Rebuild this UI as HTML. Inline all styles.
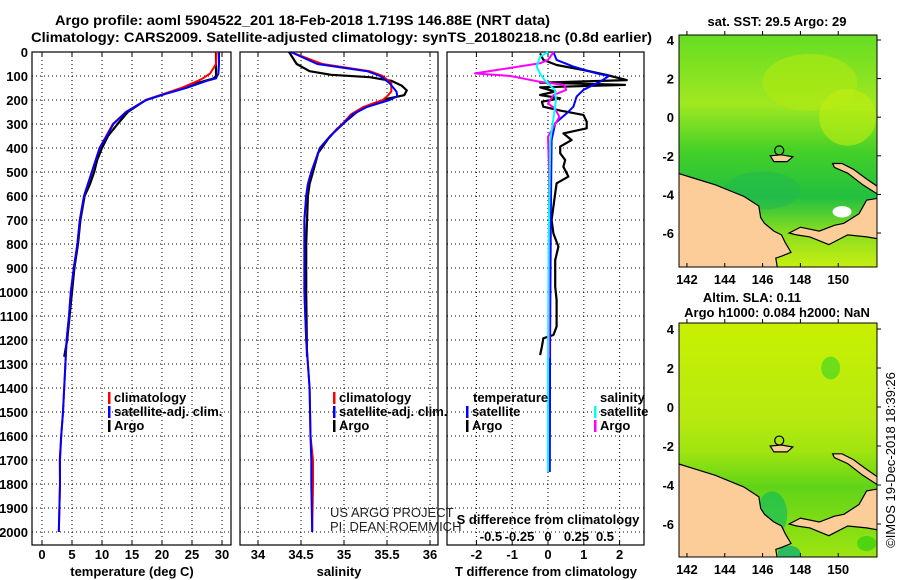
<!DOCTYPE html>
<html><head><meta charset="utf-8"><style>
html,body{margin:0;padding:0;background:#fff;}
svg{display:block;font-family:"Liberation Sans",Arial,sans-serif;}
.b{font-weight:bold;font-size:13px;fill:#000;}
</style></head>
<body>
<svg id="fig" width="900" height="580" viewBox="0 0 900 580" xmlns="http://www.w3.org/2000/svg">
<text class="b" x="55" y="25" textLength="495" lengthAdjust="spacingAndGlyphs" style="font-size:14px">Argo profile: aoml 5904522_201 18-Feb-2018 1.719S 146.88E (NRT data)</text>
<text class="b" x="31" y="42" textLength="621" lengthAdjust="spacingAndGlyphs" style="font-size:14px">Climatology: CARS2009. Satellite-adjusted climatology: synTS_20180218.nc (0.8d earlier)</text>
</svg>
<script>
// ---------- data ----------
const tempDepth = [0,50,90,110,120,150,175,200,250,300,350,400,500,600,700,800,900,1000,1100,1200,1300,1400,1500,1600,1700,1800,1900,2000];
const tempClim  = [29.1,29.0,28.0,26.8,26.0,23.2,20.3,17.3,14.0,11.8,10.7,9.6,8.3,7.0,6.3,5.9,5.3,4.8,4.5,4.1,3.9,3.7,3.5,3.2,2.95,3.0,2.9,2.8];
const tempSat   = [29.5,29.5,29.4,29.0,27.5,24.0,20.5,17.4,14.0,11.9,10.8,9.6,8.3,7.0,6.3,5.9,5.3,4.8,4.5,4.1,3.9,3.7,3.5,3.2,3.0,3.0,2.9,2.8];
const argoDepth = [0,60,100,110,130,150,170,200,250,300,350,400,450,500,550,600,700,800,900,1000,1100,1200,1270];
const argoTemp  = [29.0,29.0,29.0,28.6,25.8,23.5,21.0,17.3,14.3,12.6,11.0,10.0,9.2,8.7,8.0,7.1,6.4,6.0,5.4,5.0,4.6,4.2,3.7];
const salDepth  = [0,50,80,100,130,165,185,200,230,260,300,350,400,500,550,600,700,1000,1200,1400,1600,1700,1800,2000];
const salClim   = [34.38,34.75,35.30,35.45,35.55,35.55,35.50,35.45,35.22,35.08,34.98,34.84,34.72,34.62,34.58,34.56,34.54,34.54,34.56,34.60,34.61,34.64,34.64,34.63];
const salSat    = [34.38,34.69,35.27,35.42,35.53,35.61,35.62,35.53,35.26,35.10,34.99,34.84,34.72,34.62,34.58,34.56,34.54,34.54,34.56,34.60,34.61,34.62,34.62,34.63];
const argoSalDepth = [0,50,80,95,105,120,140,160,180,195,220,250,280,320,360,420,500,550,600,800,1000,1270];
const argoSal   = [34.36,34.45,34.60,34.85,35.30,35.55,35.67,35.73,35.70,35.50,35.30,35.15,35.05,34.92,34.82,34.70,34.64,34.60,34.58,34.56,34.56,34.57];
const dTArgoDepth = [6,33,54,75,96,117,128,137,147,165,179,193,207,228,244,262,290,318,339,367,394,422,450,478,519,547,589,644,700,756,811,867,922,978,1033,1089,1144,1179,1193,1228,1263];
const dTArgo    = [-0.22,-0.13,0.24,0.99,1.64,2.2,-0.22,2.15,-0.22,0.2,-0.22,0.34,-0.17,-0.13,0.34,0.99,1.08,1.08,0.43,0.66,0.34,0.34,0.48,0.43,0.57,0.24,0.2,0.15,0.1,0.15,0.29,0.2,0.2,0.2,0.24,0.24,0.24,0.15,-0.13,-0.17,-0.22];
const dTSatDepth = [0,33,61,89,100,124,158,186,228,256,297,367,650,1200,1750];
const dTSat     = [0.15,0.24,0.71,1.36,1.7,1.45,0.99,0.8,0.71,0.52,0.2,0.1,0.08,0.06,0.05];
const dSArgoDepth = [0,33,47,89,100,124,137,158,179,214,235,270,311,353,505,900,1276];
const dSArgo    = [0.05,0.0,-0.07,-0.64,-0.33,-0.07,0.14,0.16,0.05,0.0,0.06,0.1,0.05,0.0,0.01,0.01,0.01];
const dSSatDepth = [0,20,61,89,117,158,200,270,367,800,1311,1750];
const dSSat     = [0.0,-0.07,-0.1,-0.07,-0.03,0.06,0.07,0.05,0.02,0.005,0.0,0.0];
const depthTicks = [0,100,200,300,400,500,600,700,800,900,1000,1100,1200,1300,1400,1500,1600,1700,1800,1900,2000];
const tempTicks = [0,5,10,15,20,25,30];
const salTicks  = [34,34.5,35,35.5,36];
const salTickLabels = ['34','34.5','35','35.5','36'];
const dTTicks = [-2,-1,0,1,2];
const dSTicks = [-0.5,-0.25,0,0.25,0.5];
const dSTickLabels = ['-0.5','-0.25','0','0.25','0.5'];
const lonTicks = [142,144,146,148,150];
const latTicks = [4,2,0,-2,-4,-6];

// ---------- helpers ----------
const NS='http://www.w3.org/2000/svg';
const svg=document.getElementById('fig');
function mk(tag,attrs,parent){const e=document.createElementNS(NS,tag);for(const k in attrs)e.setAttribute(k,attrs[k]);(parent||svg).appendChild(e);return e;}
function txt(s,attrs,parent){const e=mk('text',attrs,parent);e.textContent=s;return e;}
const PT=52, PB=545;
const yD=d=>PT+d*0.24;
const panels={
 temp:{x0:32,x1:231,f:v=>42+v*6},
 sal:{x0:240,x1:438,f:v=>258+(v-34)*86},
 diff:{x0:447,x1:644,f:v=>548+v*35.8, g:v=>548+v*114}
};
function frame(p,name){
  const r=mk('rect',{x:p.x0,y:PT,width:p.x1-p.x0,height:PB-PT,fill:'#fff',stroke:'#000','stroke-width':1.2});
  
  
  depthTicks.forEach(d=>{const l=mk('line',{x1:p.x0,x2:p.x1,y1:yD(d),y2:yD(d),stroke:'#000','stroke-width':1,'stroke-dasharray':'1 3'});
    
    });
}
function vgrid(p,name,ticks,fn){
  ticks.forEach(t=>{const x=fn(t);const l=mk('line',{x1:x,x2:x,y1:PT,y2:PB,stroke:'#000','stroke-width':1,'stroke-dasharray':'1 3'});
    
    
    const t1=mk('line',{x1:x,x2:x,y1:PT,y2:PT+5,stroke:'#000'});
    
    
    const t2=mk('line',{x1:x,x2:x,y1:PB-5,y2:PB,stroke:'#000'});
    
    });
}
function line(depths,vals,fn,color,name,w){
  const d=depths.map((z,i)=>(i?'L':'M')+fn(vals[i]).toFixed(1)+' '+yD(z).toFixed(1)).join(' ');
  const e=mk('path',{d:d,fill:'none',stroke:color,'stroke-width':w||2,'stroke-linejoin':'round'});
  
  
}
function legend(x,y,color,label,name){
  const m=mk('rect',{x:x,y:y-10,width:2.5,height:12,fill:color});
  
  
  const t=txt(label,{x:x+6,y:y,class:'b'});
  
  
}

// ---------- panels ----------
const P1=panels.temp,P2=panels.sal,P3=panels.diff;
frame(P1,'temperature-panel');vgrid(P1,'temperature-panel',tempTicks,P1.f);
frame(P2,'salinity-panel');vgrid(P2,'salinity-panel',salTicks,P2.f);
frame(P3,'difference-panel');vgrid(P3,'difference-panel',dTTicks,P3.f);

depthTicks.forEach(d=>{const t=txt(String(d),{x:28,y:yD(d)+5,class:'b','text-anchor':'end'});
  
  });
tempTicks.forEach(v=>{const t=txt(String(v),{x:P1.f(v),y:559,class:'b','text-anchor':'middle'});
  
  });
salTicks.forEach((v,i)=>{const t=txt(salTickLabels[i],{x:P2.f(v),y:559,class:'b','text-anchor':'middle'});
  
  });
dTTicks.forEach(v=>{const t=txt(String(v),{x:P3.f(v),y:559,class:'b','text-anchor':'middle'});
  
  });
dSTicks.forEach((v,i)=>{const t=txt(dSTickLabels[i],{x:P3.g(v),y:541,class:'b','text-anchor':'middle'});
  
  });
let t;
t=txt('temperature (deg C)',{x:132,y:576,class:'b','text-anchor':'middle'});


t=txt('salinity',{x:339,y:576,class:'b','text-anchor':'middle'});


t=txt('T difference from climatology',{x:546,y:576,class:'b','text-anchor':'middle'});


t=txt('S difference from climatology',{x:548,y:524,class:'b','text-anchor':'middle'});


t=txt('US ARGO PROJECT',{x:330,y:517,'font-size':13,fill:'#222'});


t=txt('PI: DEAN ROEMMICH',{x:330,y:531,'font-size':13,fill:'#222'});



line(argoDepth,argoTemp,P1.f,'#000','temperature-argo-line',2.2);
line(tempDepth,tempClim,P1.f,'#f00','temperature-climatology-line');
line(tempDepth,tempSat,P1.f,'#00f','temperature-satellite-line');
line(argoSalDepth,argoSal,P2.f,'#000','salinity-argo-line',2.2);
line(salDepth,salClim,P2.f,'#f00','salinity-climatology-line');
line(salDepth,salSat,P2.f,'#00f','salinity-satellite-line');
line(dTArgoDepth,dTArgo,P3.f,'#000','t-difference-argo-line',2.2);
line(dTSatDepth,dTSat,P3.f,'#00f','t-difference-satellite-line');
line(dSArgoDepth,dSArgo,P3.g,'#f0f','s-difference-argo-line');
line(dSSatDepth,dSSat,P3.g,'#0ff','s-difference-satellite-line');

legend(108,402,'#f00','climatology','temperature-legend-climatology');
legend(108,416,'#00f','satellite-adj. clim.','temperature-legend-satellite');
legend(108,430,'#000','Argo','temperature-legend-argo');
legend(333,402,'#f00','climatology','salinity-legend-climatology');
legend(333,416,'#00f','satellite-adj. clim.','salinity-legend-satellite');
legend(333,430,'#000','Argo','salinity-legend-argo');
t=txt('temperature',{x:473,y:402,class:'b'});


t=txt('salinity',{x:600,y:402,class:'b'});


legend(466,416,'#00f','satellite','difference-legend-t-satellite');
legend(466,430,'#000','Argo','difference-legend-t-argo');
legend(594,416,'#0ff','satellite','difference-legend-s-satellite');
legend(594,430,'#f0f','Argo','difference-legend-s-argo');

// ---------- maps ----------
const coastMain=[[141.5,-2.9],[142.5,-3.2],[143.5,-3.5],[144.5,-3.9],[145,-4.1],[145.8,-4.6],[145.9,-5.2],[146.1,-5.5],[146.6,-5.9],[147.0,-6.1],[147.2,-6.5],[147.5,-7.0],[147.0,-7.2],[146.7,-7.3],[146.8,-7.9],[141.5,-7.9]];
const coastNewBritain=[[147.4,-6.0],[148,-5.7],[149,-5.9],[149.8,-5.6],[150.3,-5.5],[151.1,-5.0],[151.5,-4.3],[152.1,-4.2],[152.1,-6.3],[151.5,-6.2],[150.5,-6.1],[149.5,-6.6],[148.5,-6.2],[147.8,-6.1]];
const coastNewIreland=[[149.7,-2.4],[150.2,-2.4],[150.8,-2.7],[151.5,-3.2],[152.1,-3.6],[152.1,-4.0],[151.3,-3.5],[150.5,-2.9],[149.8,-2.6]];
const coastManus=[[146.4,-2.0],[147.0,-1.95],[147.6,-2.05],[147.3,-2.3],[146.6,-2.3]];
const floatLon=146.88, floatLat=-1.72;
function drawMap(m,name){
  const X=lon=>m.x0+(lon-141.58)*(m.x1-m.x0)/(152.05-141.58);
  const Y=lat=>m.y4+(4-lat)*m.sy;
  const g=mk('g',{});
  
  
  const gid=name+'-grad';
  const defs=mk('defs',{},g);
  const lg=mk('linearGradient',{id:gid,x1:0,y1:0,x2:0,y2:1},defs);
  m.stops.forEach(s=>mk('stop',{offset:s[0],'stop-color':s[1]},lg));
  const cp=mk('clipPath',{id:name+'-clip'},defs);
  mk('rect',{x:m.x0,y:m.y0,width:m.x1-m.x0,height:m.y1-m.y0},cp);
  const inner=mk('g',{'clip-path':'url(#'+name+'-clip)'},g);
  const bg=mk('rect',{x:m.x0,y:m.y0,width:m.x1-m.x0,height:m.y1-m.y0,fill:'url(#'+gid+')'},inner);
  
  
  m.blobs.forEach(b=>{const e=mk('ellipse',{cx:X(b[0]),cy:Y(b[1]),rx:b[2]*19,ry:b[3]*19,fill:b[4],opacity:b[5]},inner);
    
    });
  [coastMain,coastNewBritain,coastNewIreland,coastManus].forEach((c,i)=>{
    const p=mk('polygon',{points:c.map(q=>X(q[0]).toFixed(1)+','+Y(q[1]).toFixed(1)).join(' '),fill:'#fccc99',stroke:'#000','stroke-width':1.2},inner);
    
    });
  const c=mk('circle',{cx:X(floatLon),cy:Y(floatLat),r:4.5,fill:'none',stroke:'#000','stroke-width':1.2},g);
  
  
  const fr=mk('rect',{x:m.x0,y:m.y0,width:m.x1-m.x0,height:m.y1-m.y0,fill:'none',stroke:'#000','stroke-width':1},g);
  
  
  lonTicks.forEach(v=>{const tt=txt(String(v),{x:X(v),y:m.y1+17,class:'b','text-anchor':'middle','font-size':14},g);
    
    
    const tk=mk('line',{x1:X(v),x2:X(v),y1:m.y1-4,y2:m.y1,stroke:'#000'},g);
    
    
    const tk2=mk('line',{x1:X(v),x2:X(v),y1:m.y0,y2:m.y0-4,stroke:'#000'},g);
    
    });
  latTicks.forEach(v=>{const tt=txt(String(v),{x:m.x0-5,y:Y(v)+5,class:'b','text-anchor':'end','font-size':14},g);
    
    
    const tk=mk('line',{x1:m.x1,x2:m.x1+4,y1:Y(v),y2:Y(v),stroke:'#000'},g);
    
    });
}
drawMap({x0:679,x1:877,y0:35,y1:267,y4:40,sy:19.3,
  stops:[[0,'#66dd22'],[0.3,'#a0e820'],[0.5,'#44d028'],[0.7,'#22c040'],[0.85,'#88dd20'],[1,'#c8ee10']],
  blobs:[[148.5,1.8,2.5,1.5,'#b0ea10',0.6],[150.5,0,1.5,1.5,'#c0ee10',0.6],[146,-3.8,2,1,'#20b850',0.5],[150.2,-4.9,0.5,0.3,'#ffffff',1],[145.8,-5.5,0.3,0.2,'#ffffff',1]]},'sst-map');
drawMap({x0:679,x1:877,y0:323,y1:557,y4:329,sy:19.5,
  stops:[[0,'#c8f000'],[0.4,'#b8ea10'],[0.55,'#a0e410'],[0.7,'#60d418'],[1,'#9ee410']],
  blobs:[[149.6,2,0.5,0.6,'#55d820',0.8],[146.5,-5.5,0.8,1.2,'#20c050',0.8],[147.4,-7.5,0.6,0.4,'#10b070',0.8],[151.5,-7,0.5,0.4,'#30d010',0.7]]},'sla-map');
t=txt('sat. SST: 29.5 Argo: 29',{x:777,y:26,class:'b','text-anchor':'middle'});


t=txt('Altim. SLA: 0.11',{x:752,y:302,class:'b','text-anchor':'middle'});


t=txt('Argo h1000: 0.084 h2000: NaN',{x:777,y:317,class:'b','text-anchor':'middle'});


t=txt('©IMOS 19-Dec-2018 18:39:26',{x:0,y:0,'font-size':13,fill:'#000',transform:'translate(895,460) rotate(-90)','text-anchor':'middle'});


</script>
</body></html>
